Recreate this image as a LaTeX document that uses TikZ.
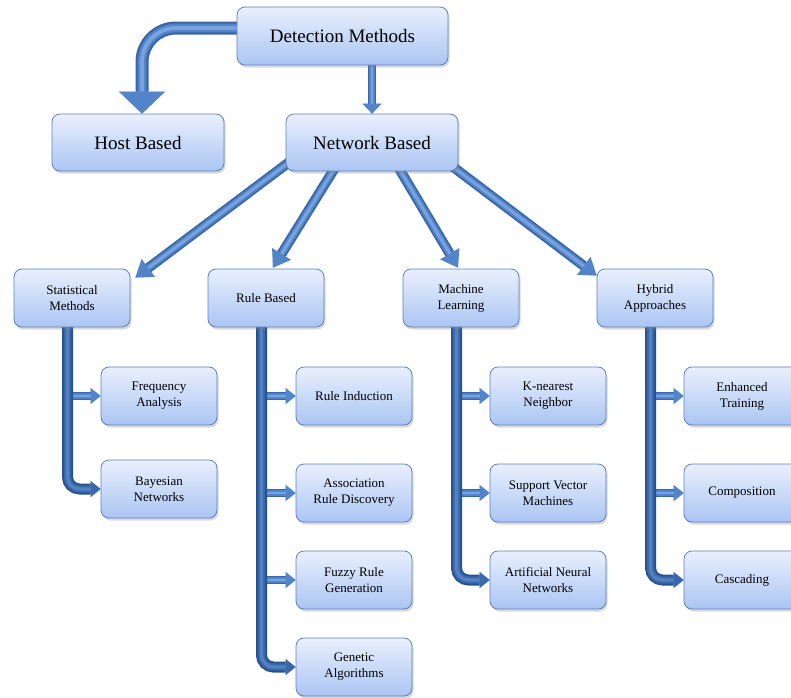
\documentclass[tikz,border=0pt]{standalone}
\usepackage{fontspec}
\setmainfont{Liberation Serif}
\usetikzlibrary{arrows.meta,shadows}
\pgfdeclarelayer{bg}
\pgfsetlayers{bg,main}
\definecolor{boxtop}{HTML}{E9F0FD}
\definecolor{boxbot}{HTML}{ABC5F3}
\definecolor{boxedge}{HTML}{5A80C2}
\definecolor{arrdark}{HTML}{3865A6}
\definecolor{arrmid}{HTML}{5184C8}
\definecolor{arrlight}{HTML}{78A3DE}
\definecolor{bardark}{HTML}{28528C}
\definecolor{barmid}{HTML}{3A68AA}
\definecolor{barlight}{HTML}{5382C2}
\tikzset{
  box/.style={draw=boxedge, line width=0.8pt, rounded corners=8pt,
    top color=boxtop, bottom color=boxbot,
    minimum width=116pt, minimum height=58pt, inner sep=2pt, align=center,
    font=\fontsize{13}{16}\selectfont,
    drop shadow={shadow xshift=1.5pt, shadow yshift=-2.5pt, opacity=0.3}},
  bigbox/.style={box, minimum width=172pt, minimum height=57pt,
    font=\fontsize{19}{22}\selectfont},
  % a shaded tube: outer colour, middle band and light core, then the head
  tube/.style n args={7}{draw=#4, line width=#1,
    -{Triangle[length=#3, width=#2, line width=0.01pt, fill=#5]},
    postaction={draw=#5, line width=0.66*#1, -, shorten >=#3},
    postaction={draw=#6, line width=0.3*#1, -, shorten >=#3}},
  fatarrow/.style n args={3}{tube={#1}{#2}{#3}{arrdark}{arrmid}{arrlight}{}},
  mainarrow/.style={fatarrow={10pt}{22pt}{16pt}},
  branch/.style={fatarrow={8pt}{16pt}{10pt}},
  bar/.style={tube={11pt}{16pt}{10pt}{bardark}{barmid}{barlight}{}, rounded corners=12pt},
}
\begin{document}
\begin{tikzpicture}[x=1pt, y=-1pt]
\useasboundingbox (0,0) rectangle (791,697);

% boxes
\node[bigbox, minimum width=211pt, minimum height=58pt] (det) at (342.5,36) {Detection Methods};
\node[bigbox] (host) at (138,142.5) {Host Based};
\node[bigbox] (net) at (372,142.5) {Network Based};

\node[box] (stat) at (72,298) {Statistical\\Methods};
\node[box] (rule) at (266,298) {Rule Based};
\node[box] (ml) at (461,298) {Machine\\Learning};
\node[box] (hyb) at (655,298) {Hybrid\\Approaches};

\node[box] (freq) at (159,396) {Frequency\\Analysis};
\node[box] (bayes) at (159,489) {Bayesian\\Networks};

\node[box] (rind) at (354,396) {Rule Induction};
\node[box] (assoc) at (354,493) {Association\\Rule Discovery};
\node[box] (fuzzy) at (354,580) {Fuzzy Rule\\Generation};
\node[box] (gen) at (354,667) {Genetic\\Algorithms};

\node[box] (knn) at (548,396) {K-nearest\\Neighbor};
\node[box] (svm) at (548,493) {Support Vector\\Machines};
\node[box] (ann) at (548,580) {Artificial Neural\\Networks};

\node[box] (enh) at (742,396) {Enhanced\\Training};
\node[box] (comp) at (742,493) {Composition};
\node[box] (casc) at (742,580) {Cascading};

\begin{pgfonlayer}{bg}
  % top level
  \coordinate (hs) at ([xshift=12pt,yshift=8pt]det.west);
  \coordinate (ht) at ([xshift=4pt]host.north);
  \draw[fatarrow={13pt}{46pt}{22pt}, rounded corners=34pt] (hs) -| (ht);
  \draw[fatarrow={8pt}{19pt}{10pt}] (net.north |- det.center) -- (net.north);

  % network based to its four families
  \draw[mainarrow] ([xshift=-64pt,yshift=-5.5pt]net.center) -- ([xshift=5pt,yshift=-9pt]stat.north east);
  \draw[mainarrow] ([xshift=-26pt,yshift=-7.5pt]net.center) -- ([xshift=7pt,yshift=1pt]rule.north);
  \draw[mainarrow] ([xshift=16pt,yshift=-7.5pt]net.center) -- ([xshift=-3pt,yshift=1pt]ml.north);
  \draw[mainarrow] ([xshift=68pt,yshift=-14.5pt]net.center) -- ([yshift=-7pt]hyb.north west);

  % statistical methods
  \coordinate (sb) at ([xshift=-4.5pt,yshift=4pt]stat.south);
  \draw[branch] (sb |- freq.west) -- (freq.west);
  \draw[bar] (sb) |- (bayes.west);

  % rule based
  \coordinate (rb) at ([xshift=-4.5pt,yshift=4pt]rule.south);
  \draw[branch] (rb |- rind.west) -- (rind.west);
  \draw[branch] (rb |- assoc.west) -- (assoc.west);
  \draw[branch] (rb |- fuzzy.west) -- (fuzzy.west);
  \draw[bar] (rb) |- (gen.west);

  % machine learning
  \coordinate (mb) at ([xshift=-4.5pt,yshift=4pt]ml.south);
  \draw[branch] (mb |- knn.west) -- (knn.west);
  \draw[branch] (mb |- svm.west) -- (svm.west);
  \draw[bar] (mb) |- (ann.west);

  % hybrid approaches
  \coordinate (hb) at ([xshift=-4.5pt,yshift=4pt]hyb.south);
  \draw[branch] (hb |- enh.west) -- (enh.west);
  \draw[branch] (hb |- comp.west) -- (comp.west);
  \draw[bar] (hb) |- (casc.west);
\end{pgfonlayer}
\end{tikzpicture}
\end{document}
